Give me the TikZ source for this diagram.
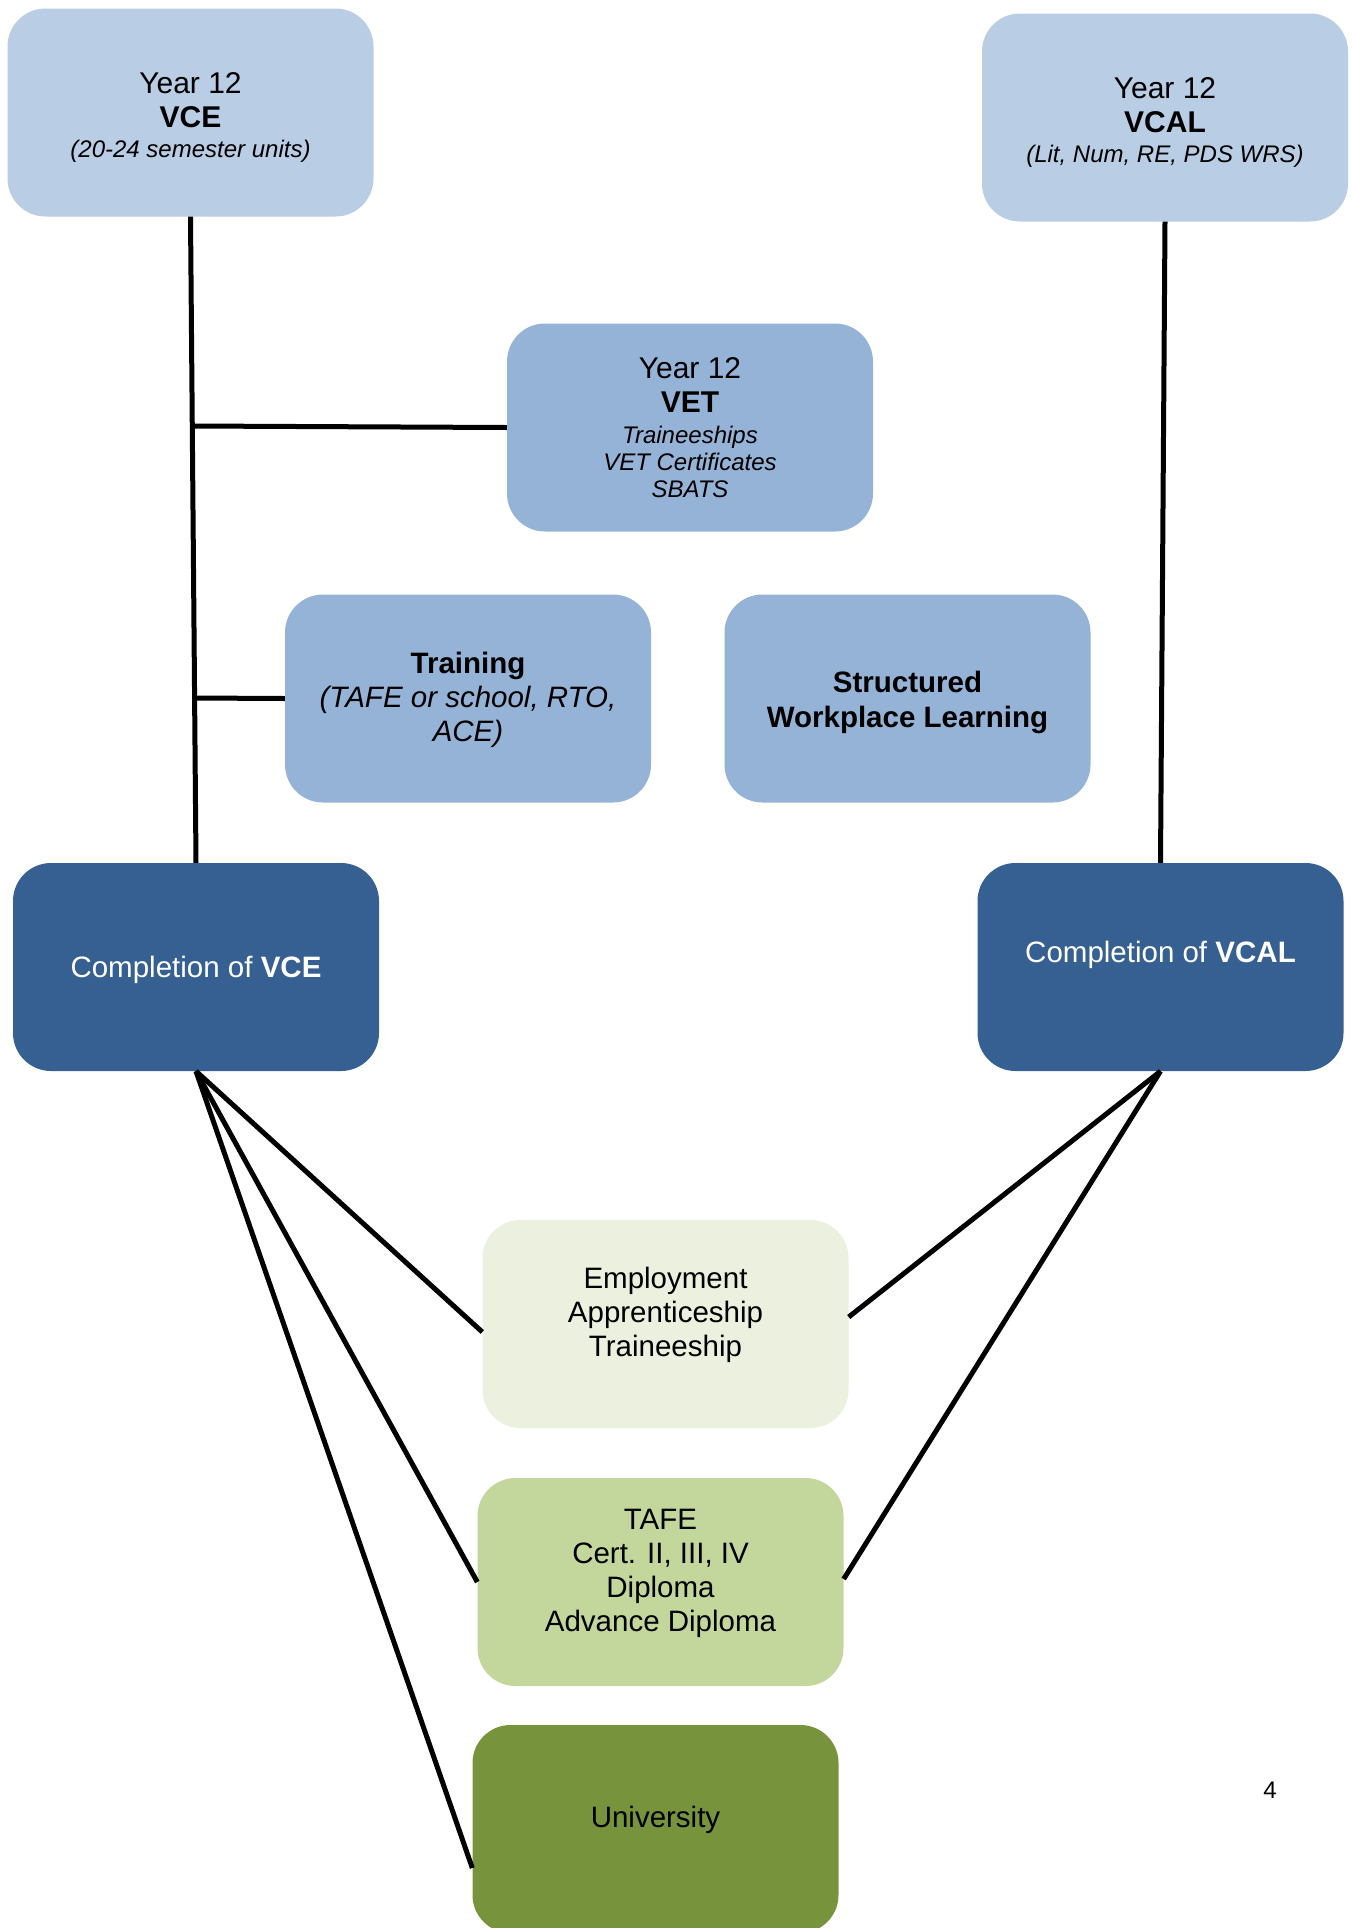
\documentclass[tikz,border=0pt]{standalone}
\usepackage{fontspec}
\setmainfont{Liberation Sans}
\definecolor{lightblue}{HTML}{B9CDE5}
\definecolor{midblue}{HTML}{95B3D7}
\definecolor{darkblue}{HTML}{376092}
\definecolor{palegreen}{HTML}{EBF1DE}
\definecolor{softgreen}{HTML}{C3D69B}
\definecolor{olivegreen}{HTML}{77933C}
% raise a block of centred lines without changing its reported size
\newcommand{\up}[2]{\raisebox{#1}[\height][\depth]{\begin{tabular}{@{}c@{}}#2\end{tabular}}}
\begin{document}
\begin{tikzpicture}[x=1pt,y=-1pt,
  box/.style={rounded corners=38pt, minimum width=366pt, minimum height=208pt,
    inner sep=0pt, align=center, font=\fontsize{30}{34}\selectfont},
  link/.style={line width=5pt, black}]
\useasboundingbox (0,0) rectangle (1352,1928);
\clip (0,0) rectangle (1352,1928);

% Year 12 pathways
\node[box, fill=lightblue] (vce) at (190.5,112.5)
  {\up{-6pt}{Year 12\\ \textbf{VCE}\\[-4pt] {\fontsize{24}{30}\selectfont\itshape (20-24 semester units)}}};
\node[box, fill=lightblue] (vcal) at (1165,117.5)
  {\up{-6pt}{Year 12\\ \textbf{VCAL}\\[-4pt] {\fontsize{24}{30}\selectfont\itshape (Lit, Num, RE, PDS WRS)}}};
\node[box, fill=midblue] (vet) at (690,427.5)
  {Year 12\\ \textbf{VET}\\[-3pt]
   {\fontsize{24}{27}\selectfont\itshape Traineeships}\\[-7pt]
   {\fontsize{24}{27}\selectfont\itshape VET Certificates}\\[-7pt]
   {\fontsize{24}{27}\selectfont\itshape SBATS}};
\node[box, fill=midblue, font=\fontsize{29.5}{34}\selectfont] (train) at (468,698.5)
  {\up{-2pt}{\textbf{Training}\\ \textit{(TAFE or school, RTO,}\\ \textit{ACE)}}};
\node[box, fill=midblue, font=\fontsize{29.5}{35}\selectfont\bfseries] (swl) at (907.5,698.5)
  {\up{-4pt}{Structured\\ Workplace Learning}};

% Completion
\node[box, fill=darkblue, text=white, font=\fontsize{29.5}{34}\selectfont] (cvce) at (196,967)
  {\up{-4pt}{Completion of \textbf{VCE}}};
\node[box, fill=darkblue, text=white, font=\fontsize{29.5}{34}\selectfont] (cvcal) at (1160.5,967)
  {\up{11pt}{Completion of \textbf{VCAL}}};

% Destinations
\node[box, fill=palegreen, font=\fontsize{29.5}{34}\selectfont] (emp) at (665.5,1324)
  {\up{8pt}{Employment\\ Apprenticeship\\ Traineeship}};
\node[box, fill=softgreen, font=\fontsize{29.5}{34}\selectfont] (tafe) at (660.5,1582)
  {\up{8pt}{TAFE\\ Cert. II, III, IV\\ Diploma\\ Advance Diploma}};
\node[box, fill=olivegreen, font=\fontsize{29.5}{34}\selectfont] (uni) at (655.5,1829)
  {\up{8pt}{University}};

% Page number
\node[font=\fontsize{24}{28}\selectfont] (pnum) at (1270,1790) {4};

% Junctions on the VCE trunk
\coordinate (jvet) at (193,426);
\coordinate (jtrain) at (194,698);

% Connectors
\draw[link] (vce.south) -- (cvce.north);
\draw[link] (jvet) -- (vet.west);
\draw[link] (jtrain) -- (train.west);
\draw[link] (vcal.south) -- (cvcal.north);

\draw[link] (cvce.south) -- ([yshift=-8pt]emp.west);
\draw[link] (cvce.south) -- (tafe.west);
\draw[link] (cvce.south) -- ([yshift=-39pt]uni.west);
\draw[link] (cvcal.south) -- ([yshift=7pt]emp.east);
\draw[link] (cvcal.south) -- ([yshift=3pt]tafe.east);
\end{tikzpicture}
\end{document}
